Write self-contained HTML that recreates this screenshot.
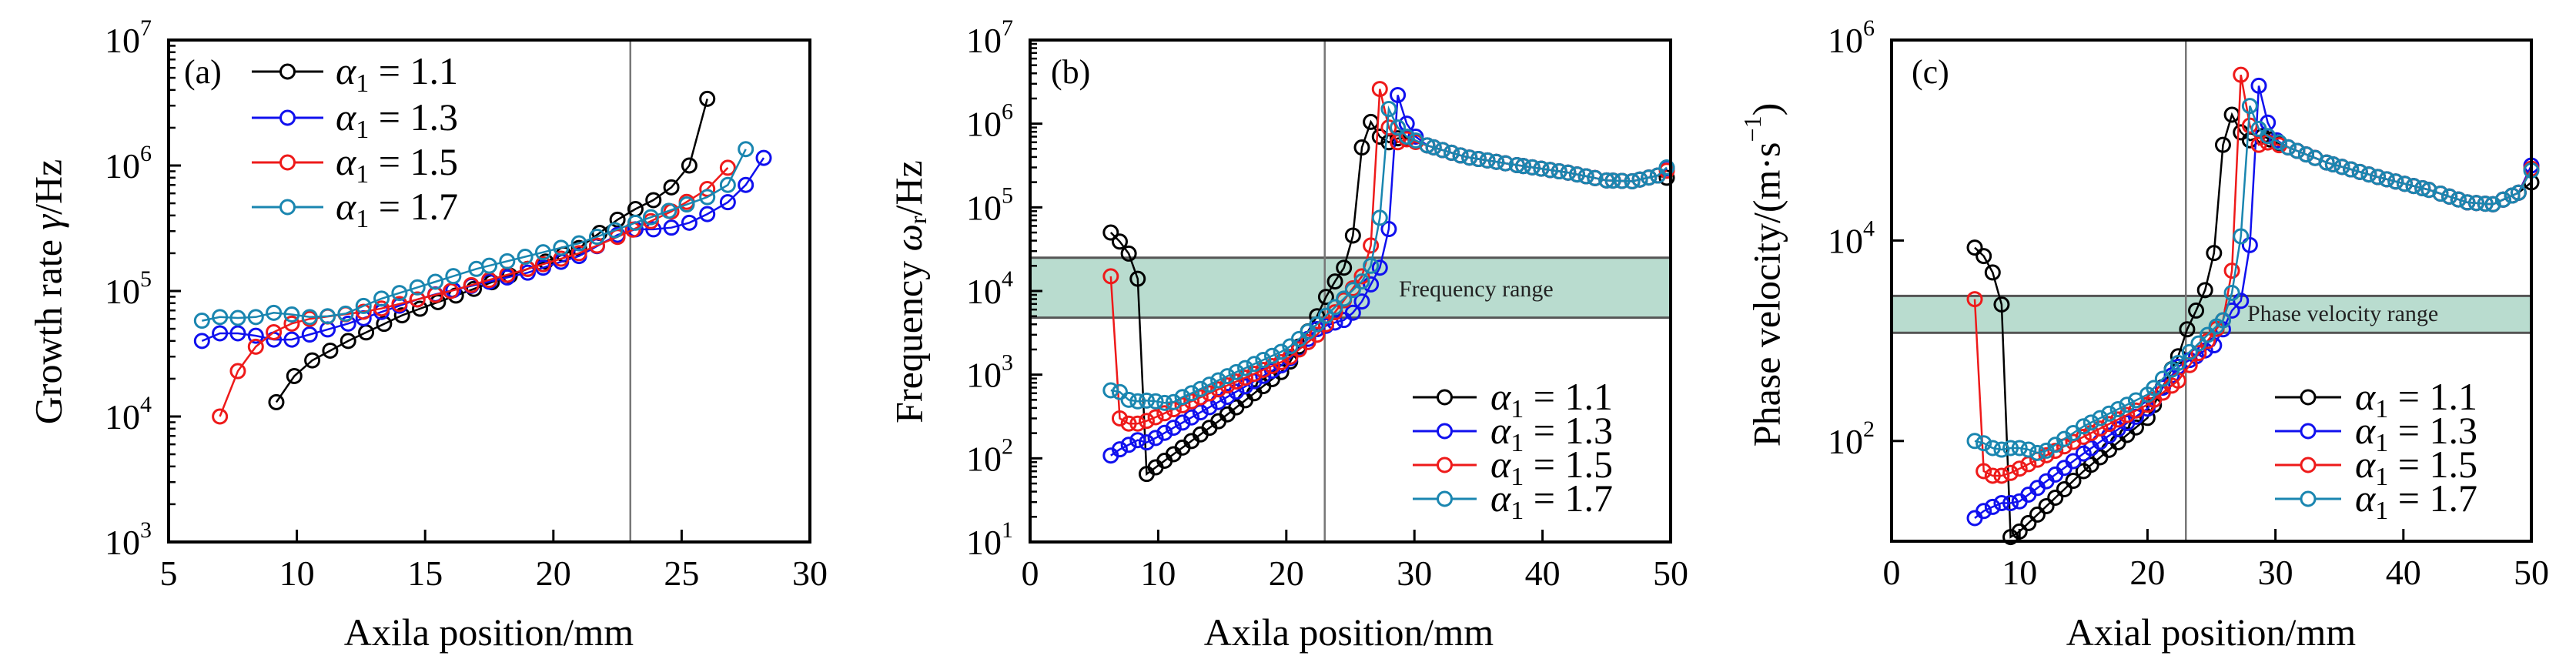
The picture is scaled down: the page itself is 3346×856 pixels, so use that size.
<!DOCTYPE html>
<html><head><meta charset="utf-8"><style>
html,body{margin:0;padding:0;background:#fff;}
svg{display:block;font-family:"Liberation Serif",serif;}
</style></head><body>
<svg id="s" width="3346" height="856" viewBox="0 0 3346 856" xmlns="http://www.w3.org/2000/svg">
<rect width="3346" height="856" fill="#fff"/>
<g id="plots"></g>
<g font-size="44" fill="#000">
<text x="239" y="108" font-size="44">(a)</text>
<text x="1365" y="108" font-size="44">(b)</text>
<text x="2483" y="108" font-size="44">(c)</text>
</g>
<g font-size="50" text-anchor="middle">
<text transform="translate(68,379) rotate(-90)" dominant-baseline="middle">Growth rate <tspan font-style="italic">γ</tspan>/Hz</text>
<text transform="translate(1186,379) rotate(-90)" dominant-baseline="middle">Frequency <tspan font-style="italic">ω</tspan><tspan font-size="32" dy="10">r</tspan><tspan dy="-10">/Hz</tspan></text>
<text transform="translate(2300,357) rotate(-90)" dominant-baseline="middle">Phase velocity/(m·s<tspan font-size="32" dy="-20">−1</tspan><tspan dy="20">)</tspan></text>
<text x="635" y="838">Axila position/mm</text>
<text x="1752" y="838">Axila position/mm</text>
<text x="2872" y="838">Axial position/mm</text>
</g>
<g font-size="30" fill="#222">
<text x="1817" y="385">Frequency range</text>
<text x="2919" y="417">Phase velocity range</text>
</g>
</svg>
<script>
const NS="http://www.w3.org/2000/svg";
const G=document.getElementById('plots');
function el(t,a,p){const e=document.createElementNS(NS,t);for(const k in a)e.setAttribute(k,a[k]);(p||G).appendChild(e);return e;}
const COL={k:'#000',b:'#1010ee',r:'#ee1a1a',c:'#1a86b0'};
function interp(kp,x){
 if(x<=kp[0][0])return kp[0][1];
 for(let i=1;i<kp.length;i++){if(x<=kp[i][0]){const a=kp[i-1],b=kp[i];const t=(x-a[0])/(b[0]-a[0]);return Math.pow(10,Math.log10(a[1])+t*(Math.log10(b[1])-Math.log10(a[1])));}}
 return kp[kp.length-1][1];}
function series(kp,step){const x0=kp[0][0],x1=kp[kp.length-1][0];const out=[];
 for(let x=x0;x<=x1+0.35;x+=step){let xx=Math.min(x,x1);
  let best=null;for(const p of kp){if(Math.abs(p[0]-xx)<0.25&&(!best||Math.abs(p[0]-xx)<Math.abs(best[0]-xx)))best=p;}
  out.push(best?[best[0],best[1]]:[xx,interp(kp,xx)]);}
 return out;}
function panel(P){
 const {L,R,T,B,xmin,xmax,ymin,ymax}=P;
 const X=x=>L+(x-xmin)/(xmax-xmin)*(R-L);
 const Y=y=>B-(Math.log10(y)-ymin)/(ymax-ymin)*(B-T);
 const g=el('g',{});
 if(P.band){el('rect',{x:L,y:Y(P.band[1]),width:R-L,height:Y(P.band[0])-Y(P.band[1]),fill:'#b9dccf',stroke:'#555','stroke-width':3},g);}
 el('line',{x1:X(23),x2:X(23),y1:T,y2:B,stroke:'#777','stroke-width':2.5},g);
 for(let e=ymin;e<=ymax;e++){
  if(P.majors && !P.majors.includes(e))continue;
  el('line',{x1:L,x2:L+16,y1:Y(Math.pow(10,e)),y2:Y(Math.pow(10,e)),stroke:'#000','stroke-width':3},g);
  const t=el('text',{x:L-22,y:Y(Math.pow(10,e))+16,'font-size':46,'text-anchor':'end'},g);
  t.textContent='10';const s=el('tspan',{'font-size':30,dy:-22},t);s.textContent=e;
 }
 if(P.minor){for(let e=ymin;e<ymax;e++)for(let m=2;m<=9;m++){const yy=Y(m*Math.pow(10,e));el('line',{x1:L,x2:L+9,y1:yy,y2:yy,stroke:'#000','stroke-width':2.5},g);}}
 for(let x=xmin;x<=xmax;x+=P.xstep){el('line',{x1:X(x),x2:X(x),y1:B,y2:B-16,stroke:'#000','stroke-width':3},g);
  const t=el('text',{x:X(x),y:B+56,'font-size':46,'text-anchor':'middle'},g);t.textContent=x;}
 const clip='c'+L;const cp=el('clipPath',{id:clip},g);el('rect',{x:L-12,y:T,width:R-L+24,height:B-T+12},cp);
 const sg=el('g',{'clip-path':`url(#${clip})`},g);
 for(const s of P.series){
  const pts=series(s.kp,s.step||0.7);
  el('polyline',{points:pts.map(p=>X(p[0]).toFixed(1)+','+Y(p[1]).toFixed(1)).join(' '),fill:'none',stroke:COL[s.c],'stroke-width':2.5},sg);
  for(const p of pts)el('circle',{cx:X(p[0]),cy:Y(p[1]),r:9,fill:'none',stroke:COL[s.c],'stroke-width':3},sg);
 }
 el('rect',{x:L,y:T,width:R-L,height:B-T,fill:'none',stroke:'#000','stroke-width':4},g);
 const lg=P.leg;const labs=['1.1','1.3','1.5','1.7'],cs=['k','b','r','c'];
 for(let i=0;i<4;i++){const y=lg.y[i];
  el('line',{x1:lg.x1,x2:lg.x2,y1:y,y2:y,stroke:COL[cs[i]],'stroke-width':3},g);
  el('circle',{cx:(lg.x1+lg.x2)/2,cy:y,r:9,fill:'#fff',stroke:COL[cs[i]],'stroke-width':3},g);
  const t=el('text',{x:lg.tx,y:y+16,'font-size':50},g);
  const a=el('tspan',{'font-style':'italic'},t);a.textContent='α';
  const b=el('tspan',{'font-size':34,dy:10},t);b.textContent='1';
  const c=el('tspan',{dy:-10},t);c.textContent=' = '+labs[i];
 }
}
const tB=(e)=>[[31,5.5e5],[34,4e5],[38,3.2e5],[42,2.6e5],[45,2.1e5],[47,2.05e5],[49,2.4e5],[50,e]];
const tC=(e)=>[[31,8.5e4],[34,6e4],[38,4.3e4],[42,3.2e4],[45,2.4e4],[47,2.3e4],[49,3.0e4],[50,e]];
panel({L:219,R:1052,T:52,B:704,xmin:5,xmax:30,ymin:3,ymax:7,xstep:5,minor:true,
 leg:{x1:327,x2:420,tx:436,y:[93,153,211,269]},
 series:[
 {c:'k',kp:[[9.2,1.3e4],[9.9,2.1e4],[10.6,2.8e4],[12,4e4],[14.1,6.4e4],[16.2,9.2e4],[19,1.5e5],[21,2.2e5],[22.5,3.7e5],[23.2,4.5e5],[23.9,5.3e5],[24.6,6.7e5],[25.3,1.0e6],[26,3.4e6]]},
 {c:'b',kp:[[6.3,4e4],[7,4.6e4],[7.7,4.6e4],[8.4,4.4e4],[9.1,4.1e4],[9.8,4.1e4],[10.5,4.5e4],[12,5.5e4],[15,9e4],[19,1.4e5],[21,1.9e5],[22.5,2.8e5],[23.2,3.1e5],[23.9,3.1e5],[24.6,3.2e5],[25.3,3.5e5],[26,4.1e5],[26.8,5.1e5],[27.5,7e5],[28.2,1.15e6]]},
 {c:'r',kp:[[7,1.0e4],[7.7,2.3e4],[8.4,3.6e4],[9.1,4.7e4],[9.8,5.5e4],[10.5,6e4],[13,7e4],[16,1e5],[19,1.5e5],[21,2e5],[22.5,2.7e5],[24.6,4.3e5],[26,6.5e5],[26.8,9.6e5]]},
 {c:'c',kp:[[6.3,5.8e4],[7,6.2e4],[7.7,6.1e4],[8.4,6.2e4],[9.1,6.7e4],[9.8,6.5e4],[10.5,6.2e4],[11.2,6.3e4],[11.9,6.6e4],[12.6,7.6e4],[13.3,8.7e4],[17,1.5e5],[21,2.4e5],[23.2,3.5e5],[26,5.6e5],[26.8,7e5],[27.5,1.35e6]]}
 ]});
panel({L:1338,R:2170,T:52,B:704,xmin:0,xmax:50,ymin:1,ymax:7,xstep:10,minor:true,band:[4.8e3,2.5e4],
 leg:{x1:1835,x2:1918,tx:1936,y:[516,560,604,648]},
 series:[
 {c:'k',kp:[[6.3,5e4],[7,3.9e4],[7.7,2.8e4],[8.4,1.4e4],[9.1,65],[9.8,78],[15,300],[20,1.2e3],[22.4,5e3],[23.1,8.5e3],[23.8,1.3e4],[24.5,1.9e4],[25.2,4.6e4],[25.9,5.2e5],[26.6,1.05e6],[27.3,7e5],[28,6e5],[29,7e5]].concat(tB(2.2e5))},
 {c:'b',kp:[[6.3,108],[7,128],[7.7,145],[8.4,165],[9.1,155],[9.8,175],[15,500],[20,1.4e3],[22.4,3.5e3],[23.8,4.2e3],[24.5,4.5e3],[25.2,5.5e3],[25.9,7.5e3],[26.6,1.2e4],[27.3,1.9e4],[28,5.5e4],[28.7,2.2e6],[29.4,1e6],[30.1,7e5]].concat(tB(3.2e5))},
 {c:'r',kp:[[6.3,1.5e4],[7,300],[7.7,260],[8.4,260],[9.1,280],[9.8,310],[15,700],[20,1.5e3],[22.4,3e3],[23.1,4e3],[25.9,1.5e4],[26.6,3.5e4],[27.3,2.6e6],[28,9e5],[28.7,6e5],[29.4,6.5e5]].concat(tB(2.9e5))},
 {c:'c',kp:[[6.3,650],[7,620],[7.7,500],[8.4,480],[9.1,490],[9.8,480],[10.5,460],[11.2,470],[11.9,540],[12.6,600],[15,900],[20,2e3],[22.4,4e3],[25.9,1.3e4],[26.6,2e4],[27.3,7.5e4],[28,1.5e6],[28.7,9e5],[29.4,7e5]].concat(tB(3.3e5))}
 ]});
panel({L:2457,R:3288,T:52,B:703,xmin:0,xmax:50,ymin:1,ymax:6,xstep:10,minor:false,majors:[2,4,6],band:[1.2e3,2.8e3],
 leg:{x1:2955,x2:3041,tx:3059,y:[516,560,604,648]},
 series:[
 {c:'k',kp:[[6.5,8.5e3],[7.2,7e3],[7.9,4.8e3],[8.6,2.3e3],[9.3,11],[10,12.5],[15,50],[20,170],[22.4,700],[23.1,1.3e3],[23.8,2e3],[24.5,3.2e3],[25.2,7.5e3],[25.9,9e4],[26.6,1.8e5],[27.3,1.2e5],[28,1e5],[29,1.1e5]].concat(tC(3.8e4))},
 {c:'b',kp:[[6.5,17],[7.2,20],[7.9,22],[8.6,24],[9.3,24],[10,25],[15,75],[20,210],[22.4,550],[23.8,700],[24.5,800],[25.2,900],[25.9,1.3e3],[26.6,2e3],[27.3,2.5e3],[28,9e3],[28.7,3.5e5],[29.4,1.5e5],[30.1,1e5]].concat(tC(5.6e4))},
 {c:'r',kp:[[6.5,2.6e3],[7.2,50],[7.9,45],[8.6,45],[9.3,48],[10,53],[15,110],[20,230],[22.4,400],[25.9,1.6e3],[26.6,5e3],[27.3,4.5e5],[28,1.4e5],[28.7,9e4],[29.4,9.5e4]].concat(tC(5.2e4))},
 {c:'c',kp:[[6.5,100],[7.2,95],[7.9,85],[8.6,82],[9.3,85],[10,85],[10.7,82],[11.4,76],[12.1,80],[15,140],[20,290],[22.4,600],[25.9,1.6e3],[26.6,3e3],[27.3,1.1e4],[28,2.2e5],[28.7,1.3e5],[29.4,1.1e5]].concat(tC(5e4))}
 ]});
</script>
</body></html>
